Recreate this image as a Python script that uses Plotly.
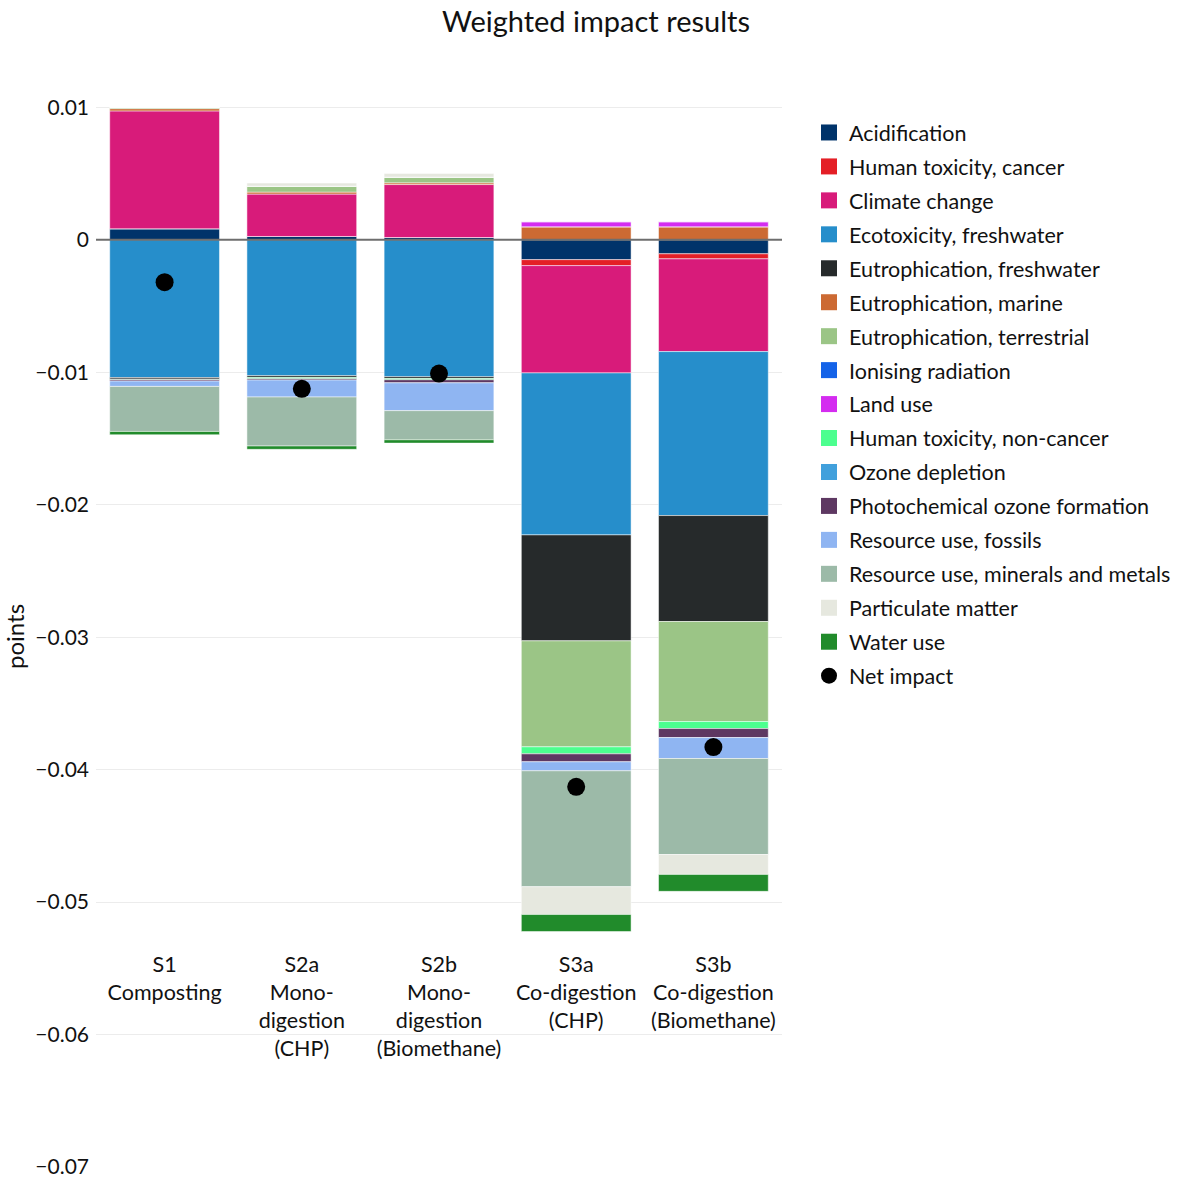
import plotly.graph_objects as go

# Scenarios (x categories)
scenarios = ["S1<br>Composting",
             "S2a<br>Mono-<br>digestion<br>(CHP)",
             "S2b<br>Mono-<br>digestion<br>(Biomethane)",
             "S3a<br>Co-digestion<br>(CHP)",
             "S3b<br>Co-digestion<br>(Biomethane)"]

# Weighted impact per category and scenario (points)
acidification      = [0.00083, 0.00025, 0.00017, -0.00150, -0.00106]
human_tox_cancer   = [0.0, 0.0, 0.0, -0.00045, -0.00038]
climate_change     = [0.00890, 0.00320, 0.00400, -0.00810, -0.00700]
ecotox_freshwater  = [-0.01040, -0.01026, -0.01034, -0.01223, -0.01238]
eutro_freshwater   = [-0.00012, -0.00013, -0.00013, -0.00800, -0.00800]
eutro_marine       = [0.00017, 0.00015, 0.00013, 0.00098, 0.00098]
eutro_terrestrial  = [0.00008, 0.00045, 0.00043, -0.00800, -0.00755]
ionising_radiation = [0.0, 0.0, 0.0, 0.0, 0.0]
land_use           = [0.0, 0.0, 0.0, 0.00038, 0.00038]
human_tox_noncanc  = [-0.00005, -0.00010, -0.00010, -0.00053, -0.00053]
ozone_depletion    = [0.0, 0.0, 0.0, 0.0, 0.0]
photochem_ozone    = [-0.00010, -0.00010, -0.00023, -0.00060, -0.00068]
resource_fossils   = [-0.00040, -0.00128, -0.00210, -0.00068, -0.00158]
resource_minerals  = [-0.00340, -0.00370, -0.00220, -0.00875, -0.00725]
particulate_matter = [0.0, 0.00023, 0.00028, -0.00210, -0.00150]
water_use          = [-0.00025, -0.00025, -0.00025, -0.00128, -0.00128]
net_impact         = [-0.00320, -0.01125, -0.01010, -0.04130, -0.03830]

categories = [
    ("Acidification", acidification, "#00336a"),
    ("Human toxicity, cancer", human_tox_cancer, "#e41f26"),
    ("Climate change", climate_change, "#d81b7a"),
    ("Ecotoxicity, freshwater", ecotox_freshwater, "#268ecb"),
    ("Eutrophication, freshwater", eutro_freshwater, "#262a2b"),
    ("Eutrophication, marine", eutro_marine, "#cc6a33"),
    ("Eutrophication, terrestrial", eutro_terrestrial, "#9bc586"),
    ("Ionising radiation", ionising_radiation, "#1463e8"),
    ("Land use", land_use, "#d42cf0"),
    ("Human toxicity, non-cancer", human_tox_noncanc, "#4cff8f"),
    ("Ozone depletion", ozone_depletion, "#41a0dc"),
    ("Photochemical ozone formation", photochem_ozone, "#5e3862"),
    ("Resource use, fossils", resource_fossils, "#8fb5f2"),
    ("Resource use, minerals and metals", resource_minerals, "#9cbaa8"),
    ("Particulate matter", particulate_matter, "#e6e8df"),
    ("Water use", water_use, "#218b2b"),
]

FONT = "Lato, 'Open Sans', sans-serif"

fig = go.Figure()

for name, vals, color in categories:
    fig.add_trace(go.Bar(
        x=scenarios, y=vals, name=name, legendgroup=name, showlegend=False,
        marker=dict(color=color, line=dict(color="white", width=0.5)),
    ))
    # square legend swatch
    fig.add_trace(go.Scatter(
        x=[None], y=[None], mode="markers", name=name, legendgroup=name,
        marker=dict(symbol="square", size=18, color=color),
    ))

fig.add_trace(go.Scatter(
    x=scenarios, y=net_impact, mode="markers", name="Net impact",
    legendgroup="Net impact",
    marker=dict(color="black", size=18),
))

fig.add_shape(type="line", xref="paper", yref="y", x0=0, x1=1, y0=0, y1=0,
              line=dict(color="#6e6e6e", width=2), layer="above")

fig.update_layout(
    width=1192, height=1181,
    template="plotly_white",
    barmode="relative", bargap=0.2,
    font=dict(family=FONT, size=21.5, color="#111111"),
    margin=dict(l=96, r=410, t=106, b=14),
    title=dict(text="Weighted impact results", x=0.5, xanchor="center",
               xref="container", y=1 - 22 / 1181, yanchor="middle",
               yref="container", font=dict(size=29, family=FONT, color="#111111")),
    legend=dict(xref="container", yref="container", x=809 / 1192,
                y=1 - 112 / 1181, xanchor="left", yanchor="top",
                font=dict(size=21.5, family=FONT), tracegroupgap=3,
                itemsizing="trace"),
    xaxis=dict(type="category", showgrid=False, ticks="", showline=False,
               anchor="free", position=0.2047, tickfont=dict(size=21.5),
               automargin=False),
    yaxis=dict(range=[-0.07, 0.0101], dtick=0.01, tick0=0, showgrid=True,
               gridcolor="#ececec", gridwidth=1, zeroline=False,
               tickfont=dict(size=21), automargin=False,
               ticklabelstandoff=6,
               title=dict(text="points", font=dict(size=24), standoff=12)),
    plot_bgcolor="white", paper_bgcolor="white",
)

fig.write_html("out.html")
